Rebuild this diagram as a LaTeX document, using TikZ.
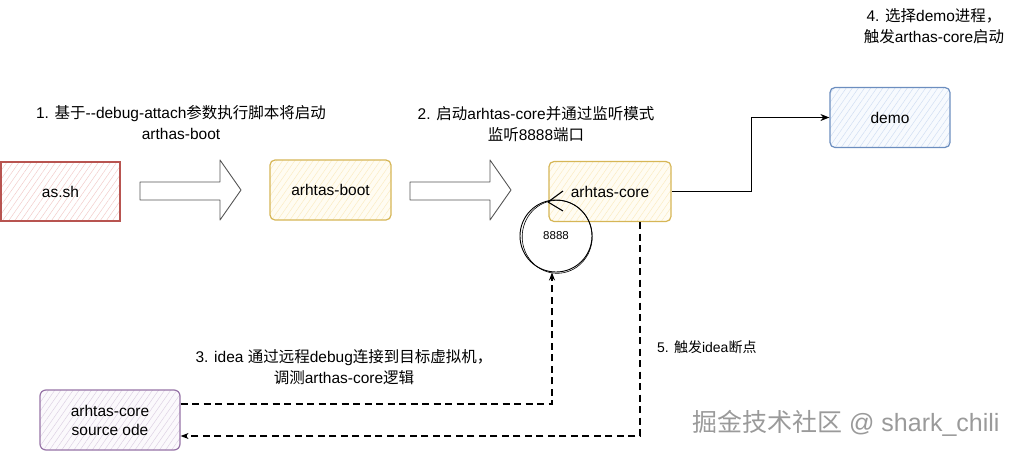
\documentclass[tikz,border=0pt]{standalone}
\usepackage{fontspec}
\setmainfont{Liberation Sans}
\newfontfamily\cjk{Noto Sans CJK SC}
\newcommand{\zh}[1]{{\cjk #1}}
\usetikzlibrary{arrows.meta,patterns.meta,calc}
\definecolor{redS}{HTML}{B85450}
\definecolor{redH}{HTML}{F2C9C7}
\definecolor{yelS}{HTML}{D6B656}
\definecolor{yelH}{HTML}{FBEBC0}
\definecolor{yelB}{HTML}{FFFCF2}
\definecolor{bluS}{HTML}{6C8EBF}
\definecolor{bluH}{HTML}{CFDDF2}
\definecolor{bluB}{HTML}{F7FAFE}
\definecolor{purS}{HTML}{9673A6}
\definecolor{purH}{HTML}{DCCFE3}
\definecolor{purB}{HTML}{FBF9FC}
\definecolor{arrS}{HTML}{555555}
\definecolor{wmark}{HTML}{9A9A9A}
\begin{document}
\begin{tikzpicture}[x=1pt,y=-1pt,
  box/.style={line width=1.2pt, minimum width=120pt, minimum height=60pt, inner sep=0pt, align=center, font=\fontsize{15.5}{19}\selectfont},
  hatch/.style 2 args={preaction={fill=#1}, pattern={Lines[angle=55,distance=5pt,line width=0.45pt]}, pattern color=#2},
  redbox/.style={box, draw=redS, hatch={white}{redH}},
  yelbox/.style={box, draw=yelS, rounded corners=5pt, hatch={yelB}{yelH}},
  blubox/.style={box, draw=bluS, rounded corners=5pt, hatch={bluB}{bluH}},
  purbox/.style={box, draw=purS, rounded corners=6pt, hatch={purB}{purH}},
  lab/.style={align=center, inner sep=0pt, font=\fontsize{15.5}{21}\selectfont},
  bigarrow/.style={draw=arrS, fill=white, line width=0.9pt, line join=round},
  conn/.style={line width=1pt, -{Stealth[length=9pt,width=7pt]}},
  dashline/.style={line width=1.1pt, dash pattern=on 7pt off 4.5pt},
]
\useasboundingbox (0,0) rectangle (1021,451);

% boxes
\node[redbox, minimum width=119pt, minimum height=59pt] (ash) at (60.5,191.5) {as.sh};
\node[yelbox, minimum width=121pt] (boot) at (330.5,190) {arhtas-boot};
\node[yelbox, minimum width=122pt] (core) at (610,191.5) {arhtas-core};
\node[blubox] (demo) at (890,117.5) {demo};
\node[purbox, minimum width=140pt] (src) at (110,420) {arhtas-core\\source ode};

% big block arrows
\draw[bigarrow] (140,182) -- (220,182) -- (220,160) -- (241,190) -- (220,220) -- (220,200) -- (140,200) -- cycle;
\draw[bigarrow] (410,182) -- (490,182) -- (490,160) -- (511,190) -- (490,220) -- (490,200) -- (410,200) -- cycle;

% port loop
\node[circle, draw, line width=0.9pt, minimum size=72pt, inner sep=0pt, font=\fontsize{11.5}{13}\selectfont] (port) at (556,236) {8888};
\draw[line width=0.6pt] ($(port)+(1.2,0.8)$) ellipse [x radius=35pt, y radius=36.5pt];
\draw[line width=1.1pt, line join=round] ($(port)+(7,-45)$) -- ($(port)+(-8,-34)$) -- ($(port)+(7,-25)$);

% core -> demo
\coordinate (bend) at (751,0);
\draw[conn] (core.east) -- (core.east -| bend) |- (demo.west);

% dashed connectors
\coordinate (c1) at (552,404);
\draw[dashline, -{Stealth[length=8pt,width=6pt]}] ([yshift=16pt]src.east) -- (c1) -- ([xshift=-4pt]port.south);
\coordinate (c2) at (640,436);
\draw[dashline, -{Stealth[length=8pt,width=6pt]}] ([xshift=30pt]core.south) -- (c2) -- ([yshift=-16pt]src.east);

% labels
\node[lab] (l1) at (181,123) {1. \zh{基于}-\kern0pt-debug-attach\zh{参数执行脚本将启动}\\arthas-boot};
\node[lab] (l2) at (536,124) {2. \zh{启动}arhtas-core\zh{并通过监听模式}\\\zh{监听}8888\zh{端口}};
\node[lab] (l3) at (344,367) {3. idea \zh{通过远程}debug\zh{连接到目标虚拟机，}\\\zh{调测}arthas-core\zh{逻辑}};
\node[lab] (l4) at (934,26) {4. \zh{选择}demo\zh{进程，}\\\zh{触发}arthas-core\zh{启动}};
\node[lab, anchor=west, font=\fontsize{14}{16}\selectfont] (l5) at (657,347) {5. \zh{触发}idea\zh{断点}};
\node[anchor=west, inner sep=0pt, text=wmark, font=\fontsize{25}{28}\selectfont] (wm) at (692,423) {\zh{掘金技术社区} @ shark\_chili};
\end{tikzpicture}
\end{document}
